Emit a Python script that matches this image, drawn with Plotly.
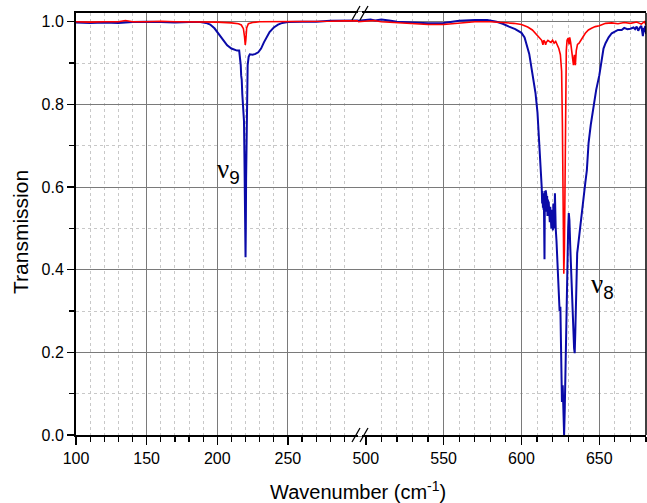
import plotly.graph_objects as go

# ---------------- data ----------------
# Left segment (100-300 cm-1)
blue_left_x = [100, 110, 120, 130, 140, 150, 160, 170, 180, 188, 192, 195, 198, 201, 204, 207,
               210, 212, 214, 215.5, 216.2, 216.6, 216.9, 217.3, 217.7, 218.2, 218.6, 218.9,
               219.2, 219.5, 219.8, 220.0, 220.2, 220.4, 220.7, 221.0, 221.5, 222.2, 223, 225,
               227, 229, 231, 233, 235, 237, 240, 243, 246, 250, 260, 270, 280, 290, 300]
blue_left_y = [0.998, 0.997, 0.998, 0.997, 0.999, 1.000, 0.999, 0.998, 0.999, 0.999, 0.997, 0.993,
               0.984, 0.970, 0.955, 0.943, 0.935, 0.932, 0.930, 0.930, 0.915, 0.895, 0.870,
               0.860, 0.825, 0.800, 0.775, 0.760, 0.680, 0.580, 0.480, 0.430, 0.500, 0.620,
               0.750, 0.840, 0.895, 0.915, 0.921, 0.920, 0.922, 0.926, 0.935, 0.950, 0.963,
               0.975, 0.986, 0.993, 0.997, 0.999, 1.000, 1.000, 1.002, 1.003, 1.003]

red_left_x = [100, 110, 120, 130, 135, 140, 150, 160, 170, 180, 190, 200, 210, 215, 217, 218.5,
              219.3, 219.8, 220.2, 220.8, 222, 225, 230, 240, 250, 260, 270, 280, 290, 300]
red_left_y = [1.000, 0.999, 1.000, 1.000, 1.003, 1.000, 1.000, 1.001, 1.000, 1.000, 1.000, 0.999,
              0.997, 0.995, 0.992, 0.983, 0.963, 0.944, 0.955, 0.985, 0.995, 0.998, 1.000,
              1.000, 1.001, 1.000, 1.000, 1.001, 1.002, 1.002]

# Right segment (495-680 cm-1)
blue_right_x = [495, 500, 503, 506, 510, 515, 520, 530, 540, 550, 560, 570, 578, 584, 588, 592,
                596, 600, 602, 605, 607, 609, 610.3, 611.3, 612.3, 613.0, 613.3, 613.5, 613.8,
                614.0, 614.2, 614.4, 614.6, 614.8, 615.0, 615.2, 615.4, 615.6, 615.8, 616.0,
                616.2, 616.5, 616.7, 617.0, 617.2, 617.5, 617.7, 618.0, 618.2, 618.5, 618.7,
                619.0, 619.2, 619.5, 619.7, 620.0, 620.2, 620.5, 620.7, 621.0, 621.2, 621.5,
                621.7, 622.0, 622.5, 623.0, 623.5, 624.0, 624.5, 625.0, 625.5, 626.0, 626.5,
                627.0, 627.4, 627.8, 628.2, 628.6, 629.0, 629.5, 630.0, 630.4, 630.8, 631.3,
                631.8, 632.3, 632.8, 633.3, 633.8, 634.2, 634.6, 635.0, 635.4, 635.8, 636.3,
                637.0, 637.6, 638.2, 638.9, 639.5, 640.3, 641.0, 642.0, 643.1, 644.5, 646.3,
                648.0, 650.0, 651.4, 652.7, 654.0, 656.0, 658.0, 660.0, 662.0, 664.4, 666.0,
                668.0, 670.0, 672.0, 673.0, 674.0, 675.0, 676.0, 677.0, 678.0, 678.5, 679.0,
                679.5, 680.0]
blue_right_y = [1.002, 1.003, 1.005, 1.003, 1.005, 1.003, 1.000, 0.998, 0.996, 0.997, 1.002,
                1.004, 1.004, 1.000, 0.995, 0.988, 0.982, 0.973, 0.962, 0.922, 0.880, 0.828,
                0.780, 0.715, 0.660, 0.600, 0.560, 0.590, 0.550, 0.585, 0.545, 0.570, 0.520,
                0.425, 0.560, 0.590, 0.545, 0.592, 0.555, 0.580, 0.540, 0.578, 0.530, 0.570,
                0.535, 0.565, 0.520, 0.555, 0.515, 0.552, 0.505, 0.540, 0.500, 0.545, 0.505,
                0.535, 0.495, 0.560, 0.510, 0.540, 0.500, 0.585, 0.520, 0.500, 0.470, 0.420,
                0.360, 0.330, 0.300, 0.310, 0.220, 0.080, 0.120, 0.020, 0.000, 0.060, 0.150,
                0.220, 0.330, 0.400, 0.500, 0.537, 0.520, 0.460, 0.420, 0.350, 0.300, 0.260,
                0.210, 0.198, 0.250, 0.350, 0.420, 0.440, 0.455, 0.480, 0.500, 0.520, 0.545,
                0.560, 0.590, 0.610, 0.640, 0.706, 0.750, 0.795, 0.835, 0.870, 0.905, 0.935,
                0.948, 0.962, 0.972, 0.976, 0.980, 0.980, 0.985, 0.982, 0.983, 0.986, 0.982,
                0.988, 0.978, 0.986, 0.990, 0.965, 0.985, 0.975, 0.990, 0.970]

red_right_x = [495, 500, 505, 510, 520, 530, 540, 550, 560, 570, 580, 590, 595, 600, 604, 607,
               609, 611, 613, 613.8, 614.3, 615.0, 615.5, 616.0, 617.0, 618.0, 619.0, 620.0,
               621.0, 622.0, 623.0, 624.0, 625.0, 625.8, 626.3, 626.8, 627.2, 627.6, 628.0,
               628.4, 628.8, 629.3, 630.0, 630.6, 631.0, 631.6, 632.2, 632.8, 633.4, 634.0,
               634.6, 635.2, 636.0, 637.0, 638.0, 639.5, 641.0, 643.0, 645.0, 647.4, 650.0,
               654.0, 658.0, 662.0, 666.0, 670.0, 674.0, 677.0, 679.0, 680.0]
red_right_y = [1.000, 1.002, 1.003, 1.000, 0.998, 0.995, 0.993, 0.993, 0.997, 1.000, 1.000,
               0.998, 0.996, 0.993, 0.987, 0.980, 0.972, 0.962, 0.955, 0.944, 0.955, 0.952,
               0.944, 0.950, 0.955, 0.952, 0.950, 0.955, 0.948, 0.952, 0.945, 0.935, 0.920,
               0.880, 0.750, 0.550, 0.390, 0.450, 0.650, 0.850, 0.930, 0.955, 0.960, 0.945,
               0.962, 0.950, 0.930, 0.910, 0.895, 0.920, 0.895, 0.930, 0.945, 0.948, 0.955,
               0.963, 0.972, 0.980, 0.984, 0.988, 0.990, 0.996, 0.997, 0.995, 0.998, 0.996,
               0.999, 0.994, 1.000, 0.992]

left_range = [100, 299.6]
right_range = [495, 680]
right_grid_vals = [550, 600, 650]
y_range = [0, 1.021]

# ---------------- layout helpers (page pixel coordinates) ----------------
FIG_W, FIG_H = 647, 503
PLOT_L, PLOT_R, PLOT_T, PLOT_B = 76, 646, 13, 435   # plot box on the page
ML = PLOT_L
MT = PLOT_T
MR = FIG_W - PLOT_R
MB = FIG_H - PLOT_B
PW = PLOT_R - PLOT_L
PH = PLOT_B - PLOT_T
SPLIT = 282 / PW


def px(x):
    return (x - PLOT_L) / PW


def py(y):
    return (PLOT_B - y) / PH


BLUE = "#0A0AA8"
RED = "#FF0000"
FONT = "Liberation Sans"

fig = go.Figure()
fig.add_trace(go.Scatter(x=blue_left_x, y=blue_left_y, mode="lines",
                         line=dict(color=BLUE, width=2), xaxis="x", yaxis="y"))
fig.add_trace(go.Scatter(x=blue_right_x, y=blue_right_y, mode="lines",
                         line=dict(color=BLUE, width=2), xaxis="x2", yaxis="y"))
fig.add_trace(go.Scatter(x=red_left_x, y=red_left_y, mode="lines",
                         line=dict(color=RED, width=1.6), xaxis="x", yaxis="y"))
fig.add_trace(go.Scatter(x=red_right_x, y=red_right_y, mode="lines",
                         line=dict(color=RED, width=1.6), xaxis="x2", yaxis="y"))

GRID = "#7a7a7a"
MINOR_GRID = "#c8c8c8"

xcommon = dict(
    showline=True, linecolor="black", linewidth=2, mirror=True,
    ticks="outside", ticklen=8, tickwidth=1.5, tickcolor="black",
    tickfont=dict(family=FONT, size=16, color="black"),
    zeroline=False,
    minor=dict(dtick=10, ticks="outside", ticklen=5, tickwidth=1.2, tickcolor="black",
               showgrid=True, gridcolor=MINOR_GRID, griddash="dot", gridwidth=1),
)

fig.update_layout(
    width=FIG_W, height=FIG_H,
    margin=dict(l=ML, r=MR, t=MT, b=MB),
    paper_bgcolor="white", plot_bgcolor="white",
    showlegend=False,
    xaxis=dict(domain=[0, SPLIT], range=left_range, tickmode="linear", tick0=100, dtick=50,
               showgrid=True, gridcolor=GRID, gridwidth=1, anchor="y", **xcommon),
    xaxis2=dict(domain=[SPLIT, 1], range=right_range, tickmode="linear", tick0=500, dtick=50,
                showgrid=False, anchor="y", **xcommon),
    xaxis3=dict(overlaying="x2", range=right_range, tickmode="array", tickvals=right_grid_vals,
                showticklabels=False, ticks="", showgrid=True, gridcolor=GRID, gridwidth=1,
                showline=False, zeroline=False, anchor="y", matches="x2"),
    yaxis=dict(range=y_range, tickmode="linear", tick0=0, dtick=0.2, tickformat=".1f",
               showline=True, linecolor="black", linewidth=2,
               ticks="outside", ticklen=7, tickwidth=1.5, tickcolor="black",
               tickfont=dict(family=FONT, size=16, color="black"),
               showgrid=True, gridcolor=GRID, gridwidth=1, zeroline=False,
               minor=dict(dtick=0.1, ticks="outside", ticklen=5, tickwidth=1.2,
                          tickcolor="black", showgrid=True, gridcolor=MINOR_GRID,
                          griddash="dot", gridwidth=1)),
)

# invisible trace so that the grid-only overlay axis is drawn
fig.add_trace(go.Scatter(x=[right_range[0]], y=[y_range[0]], mode="markers",
                         marker=dict(opacity=0), xaxis="x3", yaxis="y", hoverinfo="skip"))

shapes = []
# right frame border
shapes.append(dict(type="line", xref="paper", yref="paper", x0=1, x1=1, y0=0, y1=1,
                   line=dict(color="black", width=1.5)))
# axis-break marks at bottom and top
brk_x = 360
for yline in (PLOT_B, PLOT_T):
    shapes.append(dict(type="rect", xref="paper", yref="paper",
                       x0=px(brk_x - 2), x1=px(brk_x + 2), y0=py(yline + 1.5), y1=py(yline - 1.5),
                       line=dict(width=0), fillcolor="white"))
    for cx in (brk_x - 4, brk_x + 4):
        shapes.append(dict(type="line", xref="paper", yref="paper",
                           x0=px(cx - 4), y0=py(yline + 7), x1=px(cx + 4), y1=py(yline - 7),
                           line=dict(color="black", width=1.3)))
fig.update_layout(shapes=shapes)

annotations = [
    dict(text="Transmission", xref="paper", yref="paper", x=px(20), y=py(232),
         textangle=-90, showarrow=False, xanchor="center", yanchor="middle",
         font=dict(family=FONT, size=21, color="black")),
    dict(text="Wavenumber (cm<sup>-1</sup>)", xref="paper", yref="paper", x=px(358), y=py(490),
         showarrow=False, xanchor="center", yanchor="middle",
         font=dict(family=FONT, size=20, color="black")),
    dict(text='<span style="font-family:Liberation Serif">ν</span><sub>9</sub>',
         xref="paper", yref="paper", x=px(215), y=py(171),
         showarrow=False, xanchor="left", yanchor="middle",
         font=dict(family=FONT, size=27, color="black")),
    dict(text='<span style="font-family:Liberation Serif">ν</span><sub>8</sub>',
         xref="paper", yref="paper", x=px(589), y=py(286),
         showarrow=False, xanchor="left", yanchor="middle",
         font=dict(family=FONT, size=27, color="black")),
]
fig.update_layout(annotations=annotations)

# remove the default page margin so the figure sits at the window's top-left corner
fig.write_html("out.html",
               config={"displayModeBar": False, "staticPlot": True},
               post_script="document.body.style.margin='0';document.body.style.overflow='hidden';")
